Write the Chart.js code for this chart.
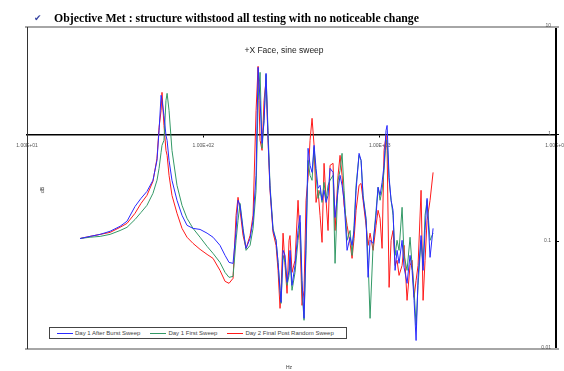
<!DOCTYPE html>
<html>
<head>
<meta charset="utf-8">
<script src="https://cdn.jsdelivr.net/npm/chart.js@4.4.1/dist/chart.umd.min.js"></script>
<style>
  html, body { margin: 0; padding: 0; background: #fff; }
  #wrap { position: relative; width: 564px; height: 371px; overflow: hidden; }
  #chart { position: absolute; left: 0; top: 0; }
  #heading { position: absolute; left: 34px; top: 8px; white-space: nowrap; }
  #heading .chk { font-family: "DejaVu Sans"; font-size: 9px; color: #3340a0; margin-right: 12px; vertical-align: 1px; }
  #heading .txt { display: inline-block; font-family: "Liberation Serif"; font-weight: bold; font-size: 12.5px; color: #000; transform-origin: left center; }
  #title { position: absolute; left: 0; width: 564px; top: 45px; text-align: center; font-family: "Liberation Sans"; font-size: 8.5px; color: #222; padding-left: 4px; box-sizing: border-box; }
  #ytitle { position: absolute; left: 39px; top: 187px; font-family: "Liberation Sans"; font-size: 5px; color: #333; transform: rotate(-90deg); }
  #xtitle { position: absolute; left: 286px; top: 364px; font-family: "Liberation Sans"; font-size: 5px; color: #333; }
  #legend { position: absolute; left: 49px; top: 327px; width: 296px; height: 10px; border: 1px solid #444; background: #fff; display: flex; align-items: center; font-family: "Liberation Sans"; font-size: 6px; color: #444; box-sizing: content-box; }
  #legend .item { display: flex; align-items: center; margin-left: 7px; margin-right: 3px; }
  #legend .swatch { width: 16px; height: 0; border-top: 1px solid; margin-right: 2px; }
</style>
</head>
<body>
<div id="wrap">
  <canvas id="chart" width="564" height="371"></canvas>
  <div id="heading"><span class="chk">&#10004;</span><span class="txt">Objective Met : structure withstood all testing with no noticeable change</span></div>
  <div id="title">+X Face, sine sweep</div>
  <div id="ytitle">dB</div>
  <div id="xtitle">Hz</div>
  <div id="legend"></div>
</div>
<script>
// sweep frequencies (Hz)
const freqHz = [20, 22.8, 26, 29.6, 33.7, 36.9, 41, 44.3, 47.9, 51.8,
    54.6, 56.1, 57.6, 58.3, 59.8, 61.4, 62.3, 63.9, 66.4, 70.9,
    75.7, 80.8, 87.4, 95.8, 105, 113.5, 124.3, 132.8, 139.9, 147.4,
    153.3, 157.3, 161.5, 168, 174.7, 184.1, 191.4, 199.1, 204.4, 209.8,
    215.3, 221, 226.8, 232.8, 238.9, 248.5, 258.4, 265.3, 272.3, 275.9,
    283.2, 290.7, 298.4, 306.2, 310.2, 318.4, 331.2, 344.4, 353.6, 362.9,
    372.5, 382.4, 392.6, 402.9, 413.6, 424.6, 435.8, 447.3, 459.1, 471.3,
    483.7, 496.6, 509.7, 523.2, 544.1, 558.5, 580.8, 596.2, 611.9, 628.2,
    653.3, 679.4, 697.4, 715.9, 734.8, 764.2, 784.4, 805.2, 837.4, 859.6,
    882.3, 917.6, 954.1, 979.3, 1005, 1032, 1059, 1087, 1102, 1131,
    1161, 1191, 1223, 1255, 1288, 1340, 1375, 1430, 1487, 1527,
    1567, 1609, 1651, 1717, 1763, 1809, 1857, 1931, 2009];

const afterBurst = [0.107, 0.112, 0.117, 0.125, 0.139, 0.155, 0.213, 0.253, 0.294, 0.373,
    0.572, 1.09, 2.31, 2.07, 1.50, 0.979, 0.879, 0.572, 0.373, 0.243,
    0.176, 0.142, 0.133, 0.130, 0.120, 0.110, 0.0924, 0.0745, 0.0641, 0.0628,
    0.127, 0.243, 0.218, 0.127, 0.0866, 0.107, 0.158, 0.415, 4.21, 2.07,
    0.824, 1.35, 3.70, 0.918, 0.314, 0.127, 0.103, 0.0641, 0.0352, 0.0272,
    0.0830, 0.0745, 0.0418, 0.0540, 0.0830, 0.0392, 0.0601, 0.127, 0.176, 0.0436,
    0.0193, 0.103, 0.741, 0.514, 0.442, 0.790, 0.482, 0.314, 0.335, 0.243,
    0.301, 0.232, 0.270, 0.482, 0.442, 0.168, 0.301, 0.415, 0.335, 0.243,
    0.0830, 0.110, 0.0924, 0.127, 0.301, 0.665, 0.572, 0.259, 0.158, 0.0465,
    0.103, 0.0964, 0.176, 0.321, 0.270, 0.357, 0.514, 1.09, 1.21, 0.397,
    0.243, 0.196, 0.0540, 0.0830, 0.0628, 0.103, 0.0576, 0.0409, 0.0745, 0.0540,
    0.0284, 0.0120, 0.0465, 0.114, 0.0540, 0.127, 0.253, 0.0714, 0.133];

const firstSweep = [0.107, 0.110, 0.112, 0.117, 0.127, 0.136, 0.161, 0.187, 0.218, 0.282,
    0.373, 0.482, 0.680, 0.790, 0.879, 2.07, 2.41, 1.67, 0.709, 0.335,
    0.218, 0.165, 0.133, 0.110, 0.0904, 0.0778, 0.0641, 0.0517, 0.0465, 0.0475,
    0.103, 0.158, 0.227, 0.133, 0.0830, 0.0924, 0.133, 0.301, 2.07, 3.78,
    0.741, 1.35, 3.62, 1.09, 0.335, 0.133, 0.103, 0.0641, 0.0352, 0.0266,
    0.0745, 0.0641, 0.0392, 0.0485, 0.0670, 0.0352, 0.0517, 0.103, 0.151, 0.0352,
    0.0185, 0.0830, 0.572, 0.415, 0.373, 0.757, 0.415, 0.253, 0.301, 0.232,
    0.357, 0.243, 0.335, 0.373, 0.415, 0.0628, 0.373, 0.462, 0.665, 0.301,
    0.103, 0.127, 0.0745, 0.142, 0.335, 0.637, 0.572, 0.270, 0.165, 0.0670,
    0.0193, 0.0924, 0.196, 0.321, 0.243, 0.301, 0.462, 0.879, 0.879, 0.373,
    0.243, 0.176, 0.0745, 0.103, 0.0830, 0.209, 0.0745, 0.0540, 0.110, 0.0601,
    0.0352, 0.0166, 0.0392, 0.103, 0.0601, 0.176, 0.243, 0.103, 0.120];

const postRandom = [0.107, 0.112, 0.117, 0.122, 0.136, 0.148, 0.184, 0.227, 0.270, 0.365,
    0.597, 1.16, 1.67, 2.46, 1.21, 0.709, 0.637, 0.415, 0.270, 0.184,
    0.133, 0.110, 0.0964, 0.0848, 0.0761, 0.0699, 0.0540, 0.0427, 0.0409, 0.0455,
    0.176, 0.259, 0.196, 0.114, 0.0866, 0.114, 0.176, 1.67, 4.30, 0.879,
    0.709, 2.07, 3.19, 0.879, 0.301, 0.122, 0.0924, 0.0540, 0.0239, 0.0352,
    0.120, 0.0601, 0.0330, 0.103, 0.114, 0.0517, 0.0670, 0.243, 0.103, 0.0255,
    0.0352, 0.243, 0.397, 0.879, 1.41, 0.790, 0.232, 0.301, 0.176, 0.0985,
    0.537, 0.243, 0.127, 0.514, 0.537, 0.127, 0.415, 0.637, 0.415, 0.218,
    0.142, 0.0964, 0.0699, 0.107, 0.196, 0.335, 0.349, 0.243, 0.142, 0.0924,
    0.120, 0.0830, 0.142, 0.196, 0.165, 0.0866, 0.709, 0.979, 0.709, 0.0375,
    0.103, 0.127, 0.0601, 0.0670, 0.0485, 0.0601, 0.0924, 0.0284, 0.0601, 0.0670,
    0.0303, 0.0436, 0.0601, 0.301, 0.0284, 0.0670, 0.158, 0.243, 0.442];

const seriesNames = ['Day 1 After Burst Sweep', 'Day 1 First Sweep', 'Day 2 Final Post Random Sweep'];
const seriesColors = ['#2a2aff', '#339966', '#ff1a1a'];

const xTickValues = [10, 100, 1000, 10000];
const xTickLabels = ['1.00E+01', '1.00E+02', '1.00E+03', '1.00E+04'];
const yTickValues = [0.01, 0.1, 1, 10];
const yTickLabels = ['0.01', '0.1', '1', '10'];

function toPoints(values) {
    return values.map((v, i) => ({ x: freqHz[i], y: v }));
}

const allValues = [afterBurst, firstSweep, postRandom];
const datasets = allValues.map((vals, i) => ({
    label: seriesNames[i],
    data: toPoints(vals),
    borderColor: seriesColors[i],
    backgroundColor: seriesColors[i],
    showLine: true,
    borderWidth: 1,
    pointRadius: 0,
    tension: 0
}));

// plot frame: grey top/bottom rules, thin dark left edge,
// and the value labels of the right axis written just inside it
const framePlugin = {
    id: 'frame',
    afterDraw(chart) {
        const { ctx, chartArea: a } = chart;
        const yScale = chart.scales.y;
        ctx.save();
        ctx.strokeStyle = '#a6a6a6';
        ctx.lineWidth = 2;
        ctx.beginPath();
        ctx.moveTo(a.left - 2, a.top);
        ctx.lineTo(a.right + 3, a.top);
        ctx.moveTo(a.left - 2, a.bottom);
        ctx.lineTo(a.right + 3, a.bottom);
        ctx.stroke();
        ctx.strokeStyle = '#333';
        ctx.lineWidth = 1;
        ctx.beginPath();
        ctx.moveTo(a.left + 0.5, a.top);
        ctx.lineTo(a.left + 0.5, a.bottom);
        ctx.stroke();

        ctx.fillStyle = '#555';
        ctx.font = '5px "Liberation Sans"';
        ctx.textAlign = 'right';
        ctx.textBaseline = 'middle';
        yTickValues.forEach((v, i) => {
            ctx.fillText(yTickLabels[i], a.right - 5, yScale.getPixelForValue(v) - 1);
        });
        ctx.restore();
    }
};

const chartElement = document.getElementById('chart');
const sineChart = new Chart(chartElement, {
    type: 'scatter',
    data: { datasets: datasets },
    options: {
        responsive: false,
        animation: false,
        layout: { padding: { left: 27, top: 27, right: 5, bottom: 22 } },
        plugins: {
            legend: { display: false },
            tooltip: { enabled: false }
        },
        scales: {
            x: {
                type: 'logarithmic',
                min: 10,
                max: 10000,
                position: { y: 1 },
                afterBuildTicks: (axis) => {
                    axis.ticks = xTickValues.map(v => ({ value: v }));
                },
                afterFit: (axis) => {
                    axis.paddingLeft = 0;
                    axis.paddingRight = 0;
                },
                ticks: {
                    callback: (v) => xTickLabels[xTickValues.indexOf(v)],
                    autoSkip: false,
                    maxRotation: 0,
                    padding: 6,
                    color: '#555',
                    font: { family: 'Liberation Sans', size: 5 }
                },
                grid: { drawOnChartArea: false, tickLength: 2, color: '#000' },
                border: { color: '#000', width: 1.5 }
            },
            y: {
                type: 'logarithmic',
                min: 0.01,
                max: 10,
                position: 'right',
                afterBuildTicks: (axis) => {
                    axis.ticks = yTickValues.map(v => ({ value: v }));
                },
                ticks: { display: false },
                grid: { drawOnChartArea: false, tickLength: 3, color: '#000' },
                border: { color: '#000', width: 2 }
            }
        }
    },
    plugins: [framePlugin]
});

// legend built from the datasets
const legendEl = document.getElementById('legend');
datasets.forEach((ds) => {
    const item = document.createElement('div');
    item.className = 'item';
    const sw = document.createElement('span');
    sw.className = 'swatch';
    sw.style.borderTopColor = ds.borderColor;
    const tx = document.createElement('span');
    tx.textContent = ds.label;
    item.appendChild(sw);
    item.appendChild(tx);
    legendEl.appendChild(item);
});

// squeeze heading to the reference width
const headTxt = document.querySelector('#heading .txt');
const w = headTxt.getBoundingClientRect().width;
headTxt.style.transform = 'scaleX(' + (365 / w) + ')';
</script>
</body>
</html>
